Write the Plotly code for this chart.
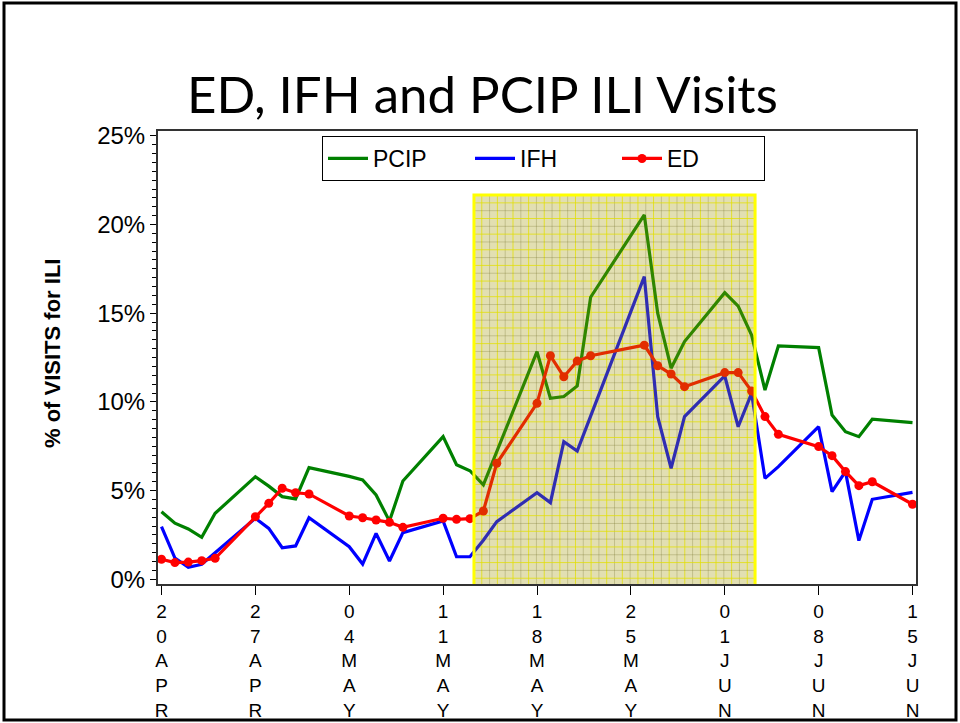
import numpy as np
import pandas as pd
import plotly.graph_objects as go

# ---------------- data ----------------
START = pd.Timestamp("2009-04-20")

ed_days = [0, 1, 2, 3, 4, 7, 8, 9, 10, 11, 14, 15, 16, 17, 18, 21, 22, 23, 24, 25,
           28, 29, 30, 31, 32, 36, 37, 38, 39, 42, 43, 44, 45, 46, 49, 50, 51, 52, 53, 56]
ed_vals = [1.13, 0.94, 0.97, 1.05, 1.18, 3.53, 4.28, 5.13, 4.88, 4.81,
           3.57, 3.47, 3.34, 3.21, 2.93, 3.44, 3.38, 3.42, 3.85, 6.54,
           9.92, 12.6, 11.42, 12.3, 12.6, 13.2, 12.04, 11.57, 10.86,
           11.65, 11.65, 10.61, 9.17, 8.17, 7.48, 6.97, 6.07, 5.28, 5.5, 4.23]

pcip_days = ed_days
pcip_vals = [3.81, 3.16, 2.84, 2.37, 3.72, 5.78, 5.25, 4.66, 4.53, 6.29,
             5.8, 5.6, 4.75, 3.28, 5.54, 8.04, 6.46, 6.12, 5.32, 7.2,
             12.83, 10.2, 10.3, 10.9, 15.9, 20.54, 15.0, 11.9, 13.4,
             16.16, 15.4, 13.77, 10.67, 13.15, 13.06, 9.26, 8.32, 8.04, 9.02, 8.83]

ifh_days = ed_days
ifh_vals = [2.97, 1.2, 0.68, 0.85, 1.5, 3.44, 2.87, 1.78, 1.88, 3.47,
            1.84, 0.86, 2.59, 1.03, 2.63, 3.29, 1.27, 1.27, 2.2, 3.25,
            4.88, 4.32, 7.76, 7.23, 9.2, 17.06, 9.17, 6.26, 9.17,
            11.46, 8.6, 10.48, 5.69, 6.35, 8.6, 4.94, 6.07, 2.18, 4.51, 4.9]

tick_days = [0, 7, 14, 21, 28, 35, 42, 49, 56]
tick_labels = ["20APR", "27APR", "04MAY", "11MAY", "18MAY", "25MAY", "01JUN", "08JUN", "15JUN"]
y_ticks = [0, 5, 10, 15, 20, 25]

# highlighted outbreak window (days since 20 Apr, % range)
HL_X = (23.3, 44.26)
HL_Y = (-0.38, 21.66)


def to_date(days):
    return [START + pd.Timedelta(days=float(d)) for d in days]


# ---------------- figure ----------------
W, H = 960, 723
ML, MR, MT, MB = 158, 44, 131, 139
PW, PH = W - ML - MR, H - MT - MB

fig = go.Figure()

fig.add_trace(go.Scatter(x=to_date(pcip_days), y=pcip_vals, name="PCIP", mode="lines",
                         line=dict(color="#008000", width=3.2)))
fig.add_trace(go.Scatter(x=to_date(ifh_days), y=ifh_vals, name="IFH", mode="lines",
                         line=dict(color="#0000ff", width=3.2)))
fig.add_trace(go.Scatter(x=to_date(ed_days), y=ed_vals, name="ED", mode="lines+markers",
                         line=dict(color="#ff0000", width=3.2),
                         marker=dict(color="#ff0000", size=9)))

shapes = []
hx0, hx1 = to_date(HL_X)
# fine grid inside highlight box
for i, xv in enumerate(np.linspace(HL_X[0], HL_X[1], 37)):
    col = "rgba(90,90,50,0.28)" if i % 2 == 0 else "rgba(255,255,0,0.75)"
    d = to_date([xv])[0]
    shapes.append(dict(type="line", xref="x", yref="y", x0=d, x1=d, y0=HL_Y[0], y1=HL_Y[1],
                       line=dict(color=col, width=1), layer="below"))
for i, yv in enumerate(np.linspace(HL_Y[0], HL_Y[1], 51)):
    col = "rgba(90,90,50,0.28)" if i % 2 == 0 else "rgba(255,255,0,0.75)"
    shapes.append(dict(type="line", xref="x", yref="y", x0=hx0, x1=hx1, y0=yv, y1=yv,
                       line=dict(color=col, width=1), layer="below"))
# tinted overlay + yellow border
shapes.append(dict(type="rect", xref="x", yref="y", x0=hx0, x1=hx1, y0=HL_Y[0], y1=HL_Y[1],
                   fillcolor="rgba(160,150,0,0.3)", line=dict(color="#ffff00", width=3),
                   layer="above"))
# slide frame
shapes.append(dict(type="rect", xref="paper", yref="paper",
                   x0=(4 - ML) / PW, x1=(956 - ML) / PW,
                   y0=(H - MB - 720) / PH, y1=(H - MB - 3) / PH,
                   line=dict(color="black", width=3), fillcolor="rgba(0,0,0,0)"))

fig.update_layout(
    width=W, height=H, autosize=False,
    margin=dict(l=ML, r=MR, t=MT, b=MB, autoexpand=False),
    paper_bgcolor="white", plot_bgcolor="white",
    shapes=shapes,
    showlegend=True,
    legend=dict(orientation="h", x=(322 - ML) / PW, y=(H - MB - 136) / PH,
                xanchor="left", yanchor="top",
                bgcolor="white", bordercolor="black", borderwidth=1,
                font=dict(family="Liberation Sans, Arial, sans-serif", size=23, color="black"),
                entrywidth=92, itemwidth=40),
    annotations=[
        dict(text="ED, IFH and PCIP ILI Visits", xref="paper", yref="paper",
             x=(482 - ML) / PW, y=(H - MB - 93) / PH, xanchor="center", yanchor="middle",
             showarrow=False, font=dict(family="Lato, Open Sans, sans-serif", size=51, color="black")),
        dict(text="<b>% of VISITS for ILI</b>", xref="paper", yref="paper",
             x=(52 - ML) / PW, y=(H - MB - 354) / PH, xanchor="center", yanchor="middle",
             textangle=-90, showarrow=False,
             font=dict(family="Liberation Sans, Arial, sans-serif", size=22, color="black")),
    ],
)

fig.update_xaxes(
    range=to_date([-0.26, 56.26]),
    tickvals=to_date(tick_days),
    ticktext=["<br>".join(list(t)) for t in tick_labels],
    ticks="outside", ticklen=9, tickcolor="black", tickwidth=1,
    showgrid=False, zeroline=False, automargin=False,
    showline=True, linecolor="#333333", linewidth=2, mirror=True,
    tickfont=dict(family="Liberation Sans Narrow, Liberation Sans, Arial, sans-serif", size=19, color="black"),
)
fig.update_yaxes(
    range=[-0.265, 25.27],
    tickvals=y_ticks, ticktext=[f"{v}%" for v in y_ticks],
    ticks="outside", ticklen=6, tickcolor="black", tickwidth=1,
    minor=dict(dtick=0.5, ticks="outside", ticklen=4, tickcolor="black", tickwidth=1, showgrid=False),
    showgrid=False, zeroline=False, automargin=False,
    showline=True, linecolor="#333333", linewidth=2, mirror=True,
    tickfont=dict(family="Liberation Sans, Arial, sans-serif", size=24, color="black"),
)

fig.write_html("out.html", config={"displayModeBar": False},
               post_script="document.body.style.margin='0px';")
